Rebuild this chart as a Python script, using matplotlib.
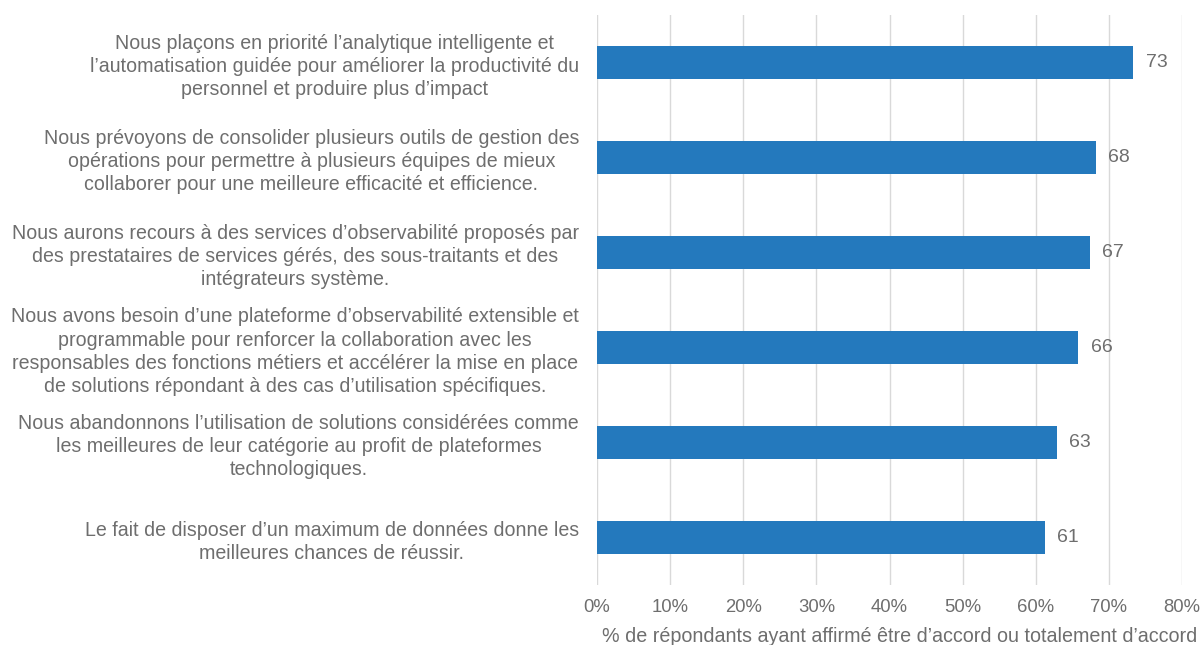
import matplotlib
matplotlib.use("Agg")
import matplotlib.pyplot as plt
from matplotlib.ticker import PercentFormatter

categories = [
    "Nous plaçons en priorité l’analytique intelligente et\nl’automatisation guidée pour améliorer la productivité du\npersonnel et produire plus d’impact",
    "Nous prévoyons de consolider plusieurs outils de gestion des\nopérations pour permettre à plusieurs équipes de mieux\ncollaborer pour une meilleure efficacité et efficience.",
    "Nous aurons recours à des services d’observabilité proposés par\ndes prestataires de services gérés, des sous-traitants et des\nintégrateurs système.",
    "Nous avons besoin d’une plateforme d’observabilité extensible et\nprogrammable pour renforcer la collaboration avec les\nresponsables des fonctions métiers et accélérer la mise en place\nde solutions répondant à des cas d’utilisation spécifiques.",
    "Nous abandonnons l’utilisation de solutions considérées comme\nles meilleures de leur catégorie au profit de plateformes\ntechnologiques.",
    "Le fait de disposer d’un maximum de données donne les\nmeilleures chances de réussir.",
]
values = [73.3, 68.2, 67.4, 65.8, 62.9, 61.2]
value_labels = ["73", "68", "67", "66", "63", "61"]
xticks = [0, 10, 20, 30, 40, 50, 60, 70, 80]
xlabel = "% de répondants ayant affirmé être d’accord ou totalement d’accord"

plt.rcParams['font.family'] = ['Liberation Sans', 'DejaVu Sans']
gray = '#6e6e6e'
bar_color = '#2479bd'

fig = plt.figure(figsize=(12.01, 6.45), dpi=100)
ax = fig.add_axes([597/1201, 1 - 585/645, (1182 - 597)/1201, (585 - 15)/645])

ypos = list(range(len(categories)))
ax.barh(ypos, values, height=0.35, color=bar_color, zorder=3)
for y, v, lab in zip(ypos, values, value_labels):
    ax.annotate(lab, (v, y), xytext=(9, 0), textcoords='offset points',
                va='center', ha='left', color=gray, fontsize=14)

ax.set_ylim(len(categories) - 0.5, -0.5)
ax.set_xlim(0, 80)
ax.set_xticks(xticks)
ax.xaxis.set_major_formatter(PercentFormatter(decimals=0))
ax.set_yticks(ypos)
ax.set_yticklabels(categories)
for t in ax.get_yticklabels():
    t.set_multialignment('center')
    t.set_linespacing(1.27)
ax.tick_params(axis='y', length=0, pad=13, labelsize=14.1, labelcolor=gray)
ax.tick_params(axis='x', length=0, pad=10, labelsize=13.3, labelcolor=gray)
ax.grid(axis='x', color='#d9d9d9', linewidth=1, zorder=0)
for s in ax.spines.values():
    s.set_visible(False)
ax.set_xlabel(xlabel, color=gray, fontsize=14.2, labelpad=9)
ax.xaxis.set_label_coords((900 - 597) / (1182 - 597), -(637 - 585) / (585 - 15))
ax.xaxis.label.set_va('center')

fig.savefig("out.png", dpi=100)
